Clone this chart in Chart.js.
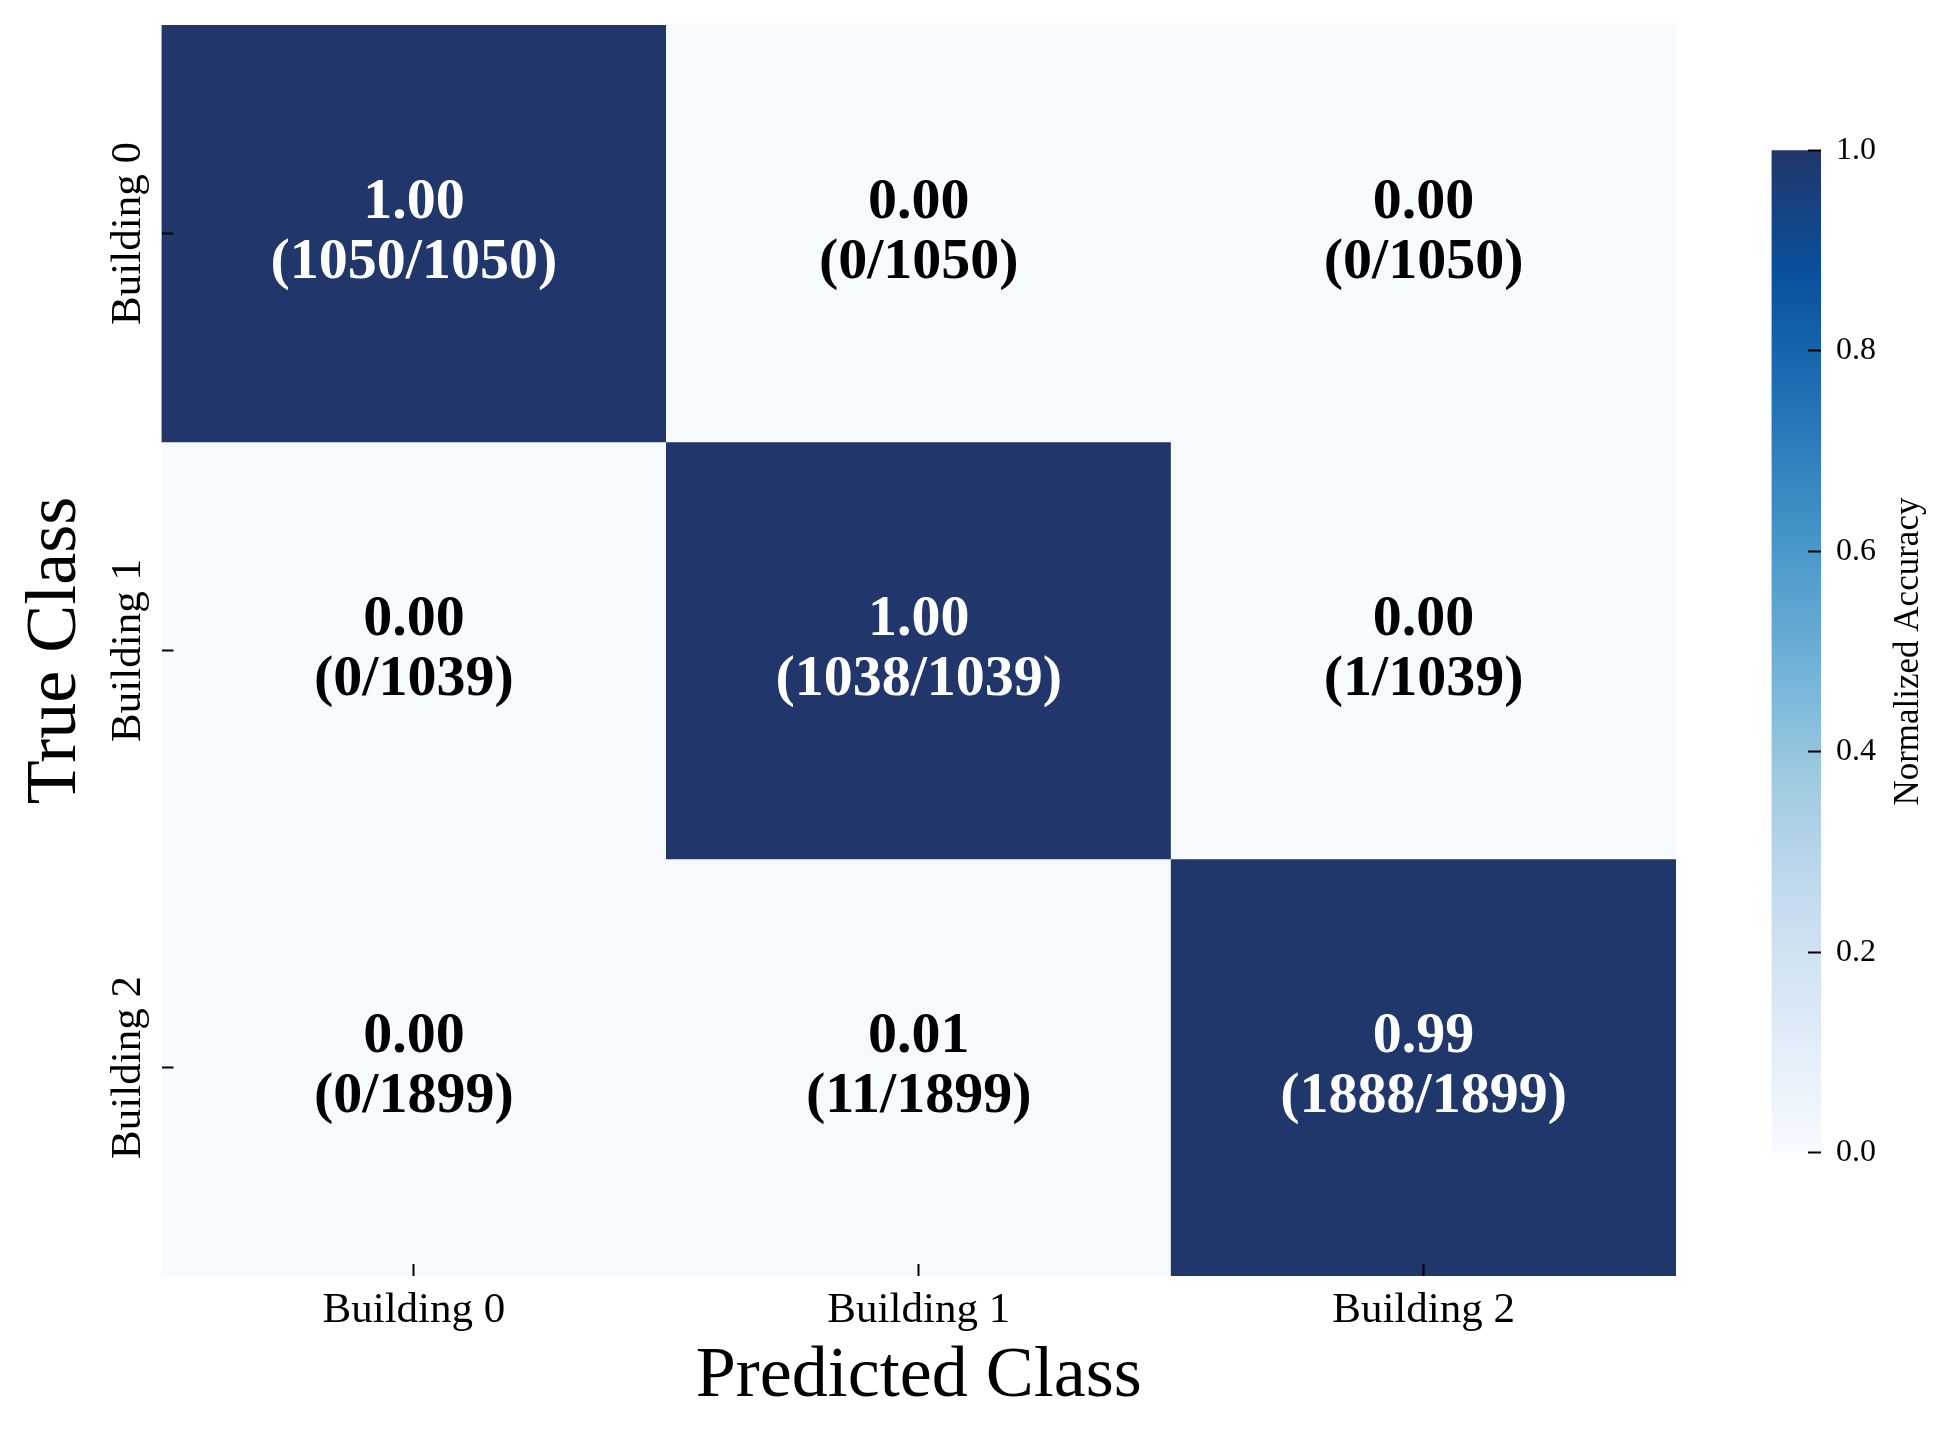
<!DOCTYPE html>
<html>
<head>
<meta charset="utf-8">
<script src="https://cdn.jsdelivr.net/npm/chart.js@4.4.1/dist/chart.umd.min.js"></script>
<style>
  html, body { margin: 0; padding: 0; background: #ffffff; }
  #wrap { position: relative; width: 1948px; height: 1431px; }
  canvas { position: absolute; left: 0; top: 0; }
</style>
</head>
<body>
<div id="wrap">
  <canvas id="main" width="1948" height="1431"></canvas>
  <canvas id="cbar" width="1948" height="1431"></canvas>
</div>
<script>
// ---------------- data ----------------
const predictedLabels = ['Building 0', 'Building 1', 'Building 2'];
const trueLabels = ['Building 0', 'Building 1', 'Building 2'];
const countsRow0 = [1050, 0, 0];
const countsRow1 = [0, 1038, 1];
const countsRow2 = [0, 11, 1888];
const counts = [countsRow0, countsRow1, countsRow2];
const colorbarTicks = [0.0, 0.2, 0.4, 0.6, 0.8, 1.0];
const colorbarRange = [0, 1];
const xTitle = 'Predicted Class';
const yTitle = 'True Class';
const cbTitle = 'Normalized Accuracy';

const rowTotals = counts.map(r => r.reduce((a, b) => a + b, 0));
const normalized = counts.map((r, i) => r.map(v => v / rowTotals[i]));

// ---------------- colormap (Blues with navy top) ----------------
const cmapStops = ['#f7fbff', '#deebf7', '#c6dbef', '#9ecae1', '#6baed6', '#4292c6', '#2171b5', '#08519c', '#21366a'];
function hexToRgb(h) { return [parseInt(h.substr(1, 2), 16), parseInt(h.substr(3, 2), 16), parseInt(h.substr(5, 2), 16)]; }
function cmap(t) {
  t = Math.max(0, Math.min(1, t));
  const n = cmapStops.length - 1;
  const p = t * n;
  const i = Math.min(n - 1, Math.floor(p));
  const f = p - i;
  const a = hexToRgb(cmapStops[i]), b = hexToRgb(cmapStops[i + 1]);
  const c = a.map((v, k) => Math.round(v + (b[k] - v) * f));
  return `rgb(${c[0]},${c[1]},${c[2]})`;
}

Chart.defaults.font.family = '"Liberation Serif", "Times New Roman", serif';
Chart.defaults.color = '#000000';

// ---------------- heatmap ----------------
const datasets = trueLabels.map((lbl, r) => ({
  label: lbl,
  data: predictedLabels.map(() => [r, r + 1]),
  backgroundColor: normalized[r].map(v => cmap(v)),
  borderWidth: 0,
  barPercentage: 1,
  categoryPercentage: 1,
  grouped: false
}));

const cellLabels = {
  id: 'cellLabels',
  afterDatasetsDraw(chart) {
    const ctx = chart.ctx;
    ctx.save();
    ctx.font = 'bold 58px "Liberation Serif"';
    ctx.textAlign = 'center';
    ctx.textBaseline = 'middle';
    chart.data.datasets.forEach((ds, r) => {
      chart.getDatasetMeta(r).data.forEach((bar, c) => {
        const cy = (bar.y + bar.base) / 2;
        const v = normalized[r][c];
        ctx.fillStyle = v > 0.5 ? '#ffffff' : '#000000';
        ctx.fillText(v.toFixed(2), bar.x, cy - 30);
        ctx.fillText('(' + counts[r][c] + '/' + rowTotals[r] + ')', bar.x, cy + 30);
      });
    });
    ctx.restore();
  }
};

new Chart(document.getElementById('main'), {
  type: 'bar',
  data: { labels: predictedLabels, datasets },
  options: {
    responsive: false,
    animation: false,
    devicePixelRatio: 1,
    layout: { padding: { left: 0, top: 25, right: 272, bottom: 0 } },
    plugins: { legend: { display: false }, tooltip: { enabled: false } },
    scales: {
      x: {
        type: 'category',
        offset: true,
        grid: { offset: false, drawOnChartArea: false, drawTicks: true, tickLength: -12, tickWidth: 2, tickColor: '#000', z: 1 },
        border: { display: false },
        ticks: { color: '#000', font: { size: 43 }, padding: 21, maxRotation: 0, minRotation: 0, autoSkip: false },
        title: { display: true, text: xTitle, color: '#000', font: { size: 72 }, padding: { top: 0, bottom: 11 } },
        afterFit: s => { s.height = 155; }
      },
      y: {
        type: 'linear',
        min: 0,
        max: trueLabels.length,
        reverse: true,
        afterBuildTicks: s => { s.ticks = trueLabels.map((_, i) => ({ value: i + 0.5 })); },
        grid: { drawOnChartArea: false, drawTicks: true, tickLength: -12, tickWidth: 2, tickColor: '#000', z: 1 },
        border: { display: false },
        ticks: {
          color: '#000', font: { size: 43 }, padding: -47, minRotation: 90, maxRotation: 90, crossAlign: 'center',
          autoSkip: false,
          callback: v => trueLabels[Math.floor(v)]
        },
        title: { display: true, text: yTitle, color: '#000', font: { size: 72 }, padding: { top: 13, bottom: 0 } },
        afterFit: s => { s.width = 161.5; }
      }
    }
  },
  plugins: [cellLabels]
});

// ---------------- colorbar ----------------
const cbLabel = {
  id: 'cbLabel',
  afterDraw(chart) {
    const ctx = chart.ctx;
    const a = chart.chartArea;
    ctx.save();
    ctx.translate(1909, (a.top + a.bottom) / 2);
    ctx.rotate(-Math.PI / 2);
    ctx.font = '35px "Liberation Serif"';
    ctx.fillStyle = '#000';
    ctx.textAlign = 'center';
    ctx.textBaseline = 'middle';
    ctx.fillText(cbTitle, 0, 0);
    ctx.restore();
  }
};

new Chart(document.getElementById('cbar'), {
  type: 'bar',
  data: {
    labels: [''],
    datasets: [{
      data: [colorbarRange],
      backgroundColor: (c) => {
        const area = c.chart.chartArea;
        if (!area) return '#ffffff';
        const g = c.chart.ctx.createLinearGradient(0, area.bottom, 0, area.top);
        cmapStops.forEach((col, i) => g.addColorStop(i / (cmapStops.length - 1), col));
        return g;
      },
      borderWidth: 0,
      barPercentage: 1,
      categoryPercentage: 1
    }]
  },
  options: {
    responsive: false,
    animation: false,
    devicePixelRatio: 1,
    layout: { padding: { left: 1771.5, top: 150.3, right: 0, bottom: 278.1 } },
    plugins: { legend: { display: false }, tooltip: { enabled: false } },
    scales: {
      x: { display: false },
      y: {
        position: 'right',
        min: colorbarRange[0],
        max: colorbarRange[1],
        afterBuildTicks: s => { s.ticks = colorbarTicks.map(v => ({ value: v })); },
        grid: { drawOnChartArea: false, drawTicks: true, tickLength: -13, tickWidth: 2, tickColor: '#000', z: 1 },
        border: { display: false },
        ticks: { color: '#000', font: { size: 32 }, padding: 28, callback: v => Number(v).toFixed(1) },
        afterFit: s => { s.width = 127; }
      }
    }
  },
  plugins: [cbLabel]
});
</script>
</body>
</html>
